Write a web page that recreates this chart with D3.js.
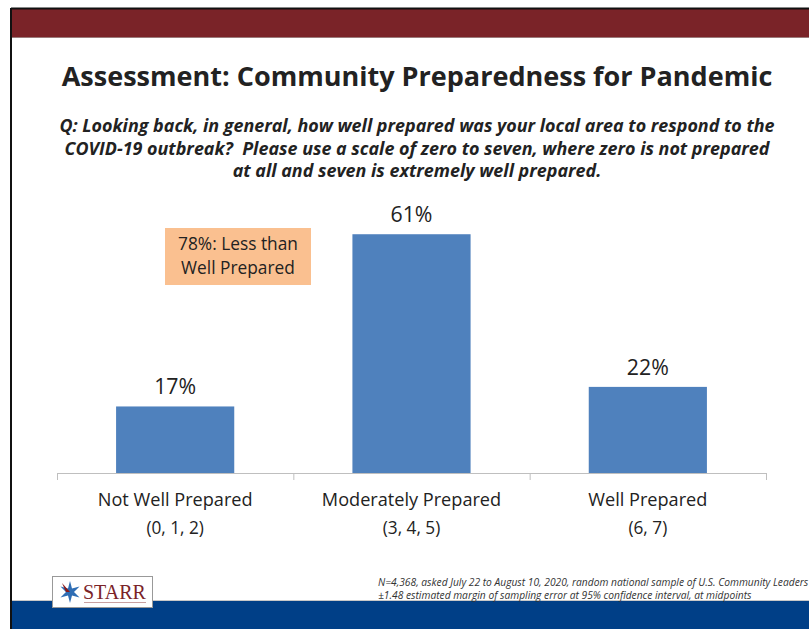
<!DOCTYPE html>
<html>
<head>
<meta charset="utf-8">
<script src="https://cdn.jsdelivr.net/npm/d3@7"></script>
<style>
  html, body { margin: 0; padding: 0; background: #fff; }
  svg { display: block; }
  text { font-family: "Open Sans", Lato, sans-serif; fill: #222; }
</style>
</head>
<body>
<svg id="chart" width="809" height="629"></svg>
<script>
// Survey results: community preparedness rating grouped into three bands
const categories = ["Not Well Prepared", "Moderately Prepared", "Well Prepared"];
const categoryRanges = ["(0, 1, 2)", "(3, 4, 5)", "(6, 7)"];
const values = [17, 61, 22];
const valueLabels = ["17%", "61%", "22%"];

const titleText = "Assessment: Community Preparedness for Pandemic";
const questionLines = [
  "Q: Looking back, in general, how well prepared was your local area to respond to the",
  "COVID-19 outbreak?  Please use a scale of zero to seven, where zero is not prepared",
  "at all and seven is extremely well prepared."
];
const calloutLines = ["78%: Less than", "Well Prepared"];
const footnoteLines = [
  "N=4,368, asked July 22 to August 10, 2020, random national sample of U.S. Community Leaders",
  "±1.48 estimated margin of sampling error at 95% confidence interval, at midpoints"
];

const svg = d3.select("#chart");
const W = 809, H = 629;

// Scale a group of text nodes so that the node at index `ref` spans `target` px
function fitWidth(sel, target, ref = 0) {
  const nodes = sel.nodes();
  const base = parseFloat(nodes[0].style.fontSize) || 16;
  const w = nodes[ref].getComputedTextLength();
  const size = base * target / w;
  sel.style("font-size", size + "px");
  return size;
}

// Slide frame: header band, left rule, footer band
svg.append("rect").attr("x", 0).attr("y", 0).attr("width", W).attr("height", H).attr("fill", "#fff");
svg.append("rect").attr("x", 11).attr("y", 8).attr("width", W - 11).attr("height", 30).attr("fill", "#7A2328");
svg.append("line").attr("x1", 11).attr("x2", W).attr("y1", 8.5).attr("y2", 8.5).attr("stroke", "#111").attr("stroke-width", 2);
svg.append("line").attr("x1", 12).attr("x2", W).attr("y1", 37.5).attr("y2", 37.5).attr("stroke", "#9a7a7a").attr("stroke-width", 1);
svg.append("line").attr("x1", 11).attr("x2", 11).attr("y1", 8).attr("y2", H).attr("stroke", "#111").attr("stroke-width", 2);
svg.append("rect").attr("x", 12).attr("y", 601).attr("width", W - 12).attr("height", H - 601).attr("fill", "#003F87");
svg.append("line").attr("x1", 12).attr("x2", W).attr("y1", 600.5).attr("y2", 600.5).attr("stroke", "#c8c8c8").attr("stroke-width", 1);

// Title
const title = svg.append("text")
  .attr("x", 417).attr("y", 86)
  .attr("text-anchor", "middle")
  .style("font-size", "24px").style("font-weight", "700")
  .text(titleText);
fitWidth(title, 711);

// Question text
const question = svg.append("g").selectAll("text").data(questionLines).join("text")
  .attr("x", 417).attr("y", (d, i) => 132 + i * 22.5)
  .attr("text-anchor", "middle")
  .style("font-size", "16px").style("font-weight", "700").style("font-style", "italic")
  .style("white-space", "pre")
  .text(d => d);
fitWidth(question, 716);

// Scales
const x = d3.scaleBand()
  .domain(categories)
  .range([57, 766])
  .paddingInner(0.5)
  .paddingOuter(0.25);

const y = d3.scaleLinear()
  .domain([0, 70])
  .range([473, 199]);

const step = x.step();
const [r0, r1] = x.range();

// Bars
svg.append("g").selectAll("rect").data(values).join("rect")
  .attr("x", (d, i) => x(categories[i]))
  .attr("y", d => y(d))
  .attr("width", x.bandwidth())
  .attr("height", d => y(0) - y(d))
  .attr("fill", "#4F81BD");

// Value labels
const vl = svg.append("g").selectAll("text").data(values).join("text")
  .attr("x", (d, i) => x(categories[i]) + x.bandwidth() / 2)
  .attr("y", d => y(d) - 12)
  .attr("text-anchor", "middle")
  .style("font-size", "18px")
  .text((d, i) => valueLabels[i]);
fitWidth(vl, 42);

// Category axis with tick marks at group boundaries
const axis = svg.append("g");
axis.append("line")
  .attr("x1", r0).attr("x2", r1)
  .attr("y1", y(0) + 0.5).attr("y2", y(0) + 0.5)
  .attr("stroke", "#bfbfbf");
axis.selectAll("line.tick").data(d3.range(categories.length + 1)).join("line")
  .attr("class", "tick")
  .attr("x1", i => r0 + i * step + 0.5).attr("x2", i => r0 + i * step + 0.5)
  .attr("y1", y(0)).attr("y2", y(0) + 7)
  .attr("stroke", "#bfbfbf");

const catNames = axis.append("g").selectAll("text").data(categories).join("text")
  .attr("x", d => x(d) + x.bandwidth() / 2).attr("y", 506)
  .attr("text-anchor", "middle")
  .style("font-size", "16px")
  .text(d => d);
const catSize = fitWidth(catNames, 155);
axis.append("g").selectAll("text").data(categoryRanges).join("text")
  .attr("x", (d, i) => x(categories[i]) + x.bandwidth() / 2).attr("y", 534)
  .attr("text-anchor", "middle")
  .style("font-size", (catSize * 0.95) + "px")
  .text(d => d);

// Callout box
const callout = svg.append("g");
callout.append("rect")
  .attr("x", 165).attr("y", 228).attr("width", 146).attr("height", 57)
  .attr("fill", "#FAC090");
const ct = callout.selectAll("text").data(calloutLines).join("text")
  .attr("x", 238).attr("y", (d, i) => 250 + i * 24)
  .attr("text-anchor", "middle")
  .style("font-size", "16px")
  .text(d => d);
fitWidth(ct, 120);

// Logo
const logo = svg.append("g");
logo.append("rect")
  .attr("x", 52.5).attr("y", 576.5).attr("width", 100).attr("height", 31)
  .attr("fill", "#fff").attr("stroke", "#999");
const star = [];
for (let k = 0; k < 12; k++) {
  const a = -Math.PI / 2 + k * Math.PI / 6;
  const r = k % 2 === 0 ? 11 : 4;
  star.push([70 + r * Math.cos(a), 592 + r * Math.sin(a)]);
}
logo.append("path").attr("d", d3.line()(star) + "Z").attr("fill", "#2E6DB4");
logo.append("path").attr("d", "M62,583 L70,592 L66,592 Z").attr("fill", "#8B1A1A");
logo.append("text")
  .attr("x", 83).attr("y", 599)
  .style("font-family", "'Liberation Serif', serif")
  .style("font-size", "20px").style("fill", "#7A2328")
  .text("STARR");
logo.append("line")
  .attr("x1", 84).attr("x2", 146).attr("y1", 602.5).attr("y2", 602.5)
  .attr("stroke", "#c9a0a0").attr("stroke-width", 1.2);

// Footnote
const fn = svg.append("g").selectAll("text").data(footnoteLines).join("text")
  .attr("x", 378).attr("y", (d, i) => 586 + i * 12.5)
  .style("font-size", "9px").style("font-style", "italic").style("fill", "#333")
  .text(d => d);
fitWidth(fn, 374, 1);
</script>
</body>
</html>
